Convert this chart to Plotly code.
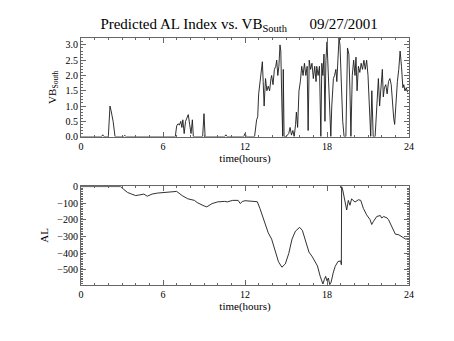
import plotly.graph_objects as go

# VB South (top panel)
vb_time = [0, 1.5, 1.59, 1.68, 2.0, 2.12, 2.2, 2.35, 2.49, 3.1, 3.2, 3.3,
           6.9, 7.0, 7.1, 7.2, 7.3, 7.38, 7.45, 7.55, 7.65, 7.78, 7.85, 7.95, 8.05, 8.15, 8.22,
           8.9, 9.0, 9.08, 10.5, 10.6, 10.7, 11.9, 12.0, 12.1,
           12.7, 12.85, 12.93, 13.0, 13.05, 13.12, 13.2, 13.27, 13.33, 13.4,
           13.5, 13.6, 13.7, 13.8, 13.9, 13.95, 14.05, 14.15, 14.25, 14.32,
           14.4, 14.48, 14.56, 14.62, 14.7, 14.76, 14.8, 14.86, 15.0, 15.2,
           15.3, 15.4, 15.5, 15.6, 15.7, 15.76, 15.85, 15.95, 16.05, 16.15,
           16.25, 16.35, 16.45, 16.55, 16.62, 16.7, 16.8, 16.9, 17.0, 17.1,
           17.2, 17.25, 17.35, 17.45, 17.55, 17.62, 17.7, 17.78, 17.85, 17.92,
           18.0, 18.05, 18.15, 18.28, 18.35, 18.47, 18.55, 18.65, 18.72, 18.8,
           18.88, 18.95, 19.05, 19.15, 19.25, 19.38, 19.5, 19.6, 19.68, 19.75,
           19.85, 19.95, 20.05, 20.12, 20.2, 20.3, 20.4, 20.5, 20.6, 20.7,
           20.8, 20.9, 21.0, 21.1, 21.2, 21.28, 21.38, 21.52, 21.62, 21.76,
           21.85, 21.95, 22.05, 22.12, 22.2, 22.3, 22.4, 22.5, 22.6, 22.7,
           22.8, 22.88, 22.95, 23.05, 23.15, 23.25, 23.35, 23.45, 23.55, 23.62,
           23.7, 23.8, 23.9]
vb_south = [0, 0, 0.06, 0, 0, 1.0, 0.85, 0.5, 0, 0, 0.04, 0,
            0, 0.35, 0.42, 0.38, 0.5, 0.3, 0.55, 0.1, 0.5, 0.7, 0.72, 0.4, 0.1, 0.55, 0,
            0, 0.75, 0, 0, 0.06, 0, 0, 0.1, 0,
            0, 0.55, 0.65, 1.4, 1.6, 1.7, 2.2, 2.45, 1.8, 1.0,
            1.9, 1.5, 1.65, 1.5, 1.9, 2.0, 1.7, 2.2, 2.3, 2.5,
            2.0, 2.3, 3.0, 2.8, 1.0, 0, 2.2, 0, 0, 0.1,
            0.3, 0.05, 0.2, 0, 0.4, 0.8, 0.3, 1.5, 1.8, 2.3,
            2.0, 2.4, 2.0, 2.3, 0.2, 2.5, 2.2, 2.4, 1.9, 2.3,
            1.8, 2.3, 2.0, 2.3, 0, 2.4, 2.0, 2.7, 0.5, 2.5,
            3.1, 2.6, 1.2, 0, 1.0, 1.9, 2.0, 2.2, 1.8, 2.6,
            3.23, 3.0, 1.5, 0.5, 0, 0, 2.9, 2.7, 1.5, 0,
            2.0, 2.5, 2.0, 2.6, 1.5, 2.3, 2.1, 2.4, 2.2, 2.5,
            2.2, 2.5, 2.0, 1.0, 0, 1.5, 0, 0, 1.0, 1.9,
            1.0, 1.6, 2.2, 1.3, 1.6, 1.7, 1.4, 1.8, 1.9, 1.7,
            1.0, 0.6, 0.4, 1.2, 1.8, 2.2, 2.8, 2.3, 1.6, 1.7,
            1.5, 1.6, 1.45]

# AL index (bottom panel)
al_time = [0, 2.9, 3.1, 3.4, 3.7, 4.0, 4.3, 4.6, 4.85, 5.2,
           5.6, 6.1, 6.8, 7.0, 7.4, 7.8, 8.3, 8.5, 9.0, 9.2,
           9.6, 10.0, 10.5, 10.7, 11.1, 11.3, 11.5, 11.65, 11.8, 12.0,
           12.5, 12.9, 13.1, 13.4, 13.7, 13.95, 14.2, 14.45, 14.7, 14.95,
           15.2, 15.44, 15.69, 16.0, 16.2, 16.44, 16.68, 16.93, 17.3, 17.5,
           17.7, 17.8, 17.9, 18.0, 18.1, 18.2, 18.3, 18.45, 18.6, 18.8,
           19.0, 19.05, 19.07, 19.15, 19.3, 19.44, 19.56, 19.68, 19.8, 20.05,
           20.3, 20.47, 20.66, 20.9, 21.15, 21.27, 21.4, 21.64, 21.9, 22.0,
           22.15, 22.4, 22.5, 22.75, 23.0, 23.25, 23.5, 23.74, 23.87]
al_index = [0, 0, -15, -35, -45, -54, -50, -45, -58, -45,
            -39, -35, -31, -29, -54, -73, -83, -96, -116, -122,
            -102, -92, -89, -92, -83, -84, -83, -102, -90, -85,
            -86, -91, -133, -210, -278, -316, -384, -452, -485, -465,
            -403, -316, -268, -245, -264, -336, -394, -423, -477, -539,
            -586, -560, -540, -567, -550, -590, -575, -520, -480, -451,
            -447, -470, 0, -20, -74, -141, -83, -112, -74, -93,
            -79, -83, -131, -170, -199, -228, -209, -180, -174, -189,
            -180, -189, -199, -247, -286, -290, -305, -315, -315]

x_ticks = [0, 6, 12, 18, 24]
vb_ticks = [0.0, 0.5, 1.0, 1.5, 2.0, 2.5, 3.0]
al_ticks = [0, -100, -200, -300, -400, -500]

W, H = 454, 341
TICKFONT = dict(family="Liberation Serif", size=10, color="black")
TITLEFONT = dict(family="Liberation Serif", size=11, color="black")
AXCOL = "#666666"
LINECOL = "#1a1a1a"

fig = go.Figure()
fig.add_trace(go.Scatter(x=vb_time, y=vb_south, mode="lines",
                         line=dict(color=LINECOL, width=0.9), xaxis="x", yaxis="y"))
fig.add_trace(go.Scatter(x=al_time, y=al_index, mode="lines",
                         line=dict(color=LINECOL, width=0.9), xaxis="x2", yaxis="y2"))

def xax(anchor):
    return dict(range=[0, 24], tickvals=x_ticks, ticks="inside", ticklen=5,
                tickcolor=AXCOL, showline=True, linecolor=AXCOL, linewidth=1,
                mirror="ticks", showgrid=False, zeroline=False, anchor=anchor,
                tickfont=TICKFONT, domain=[0, 1],
                minor=dict(dtick=1, ticks="inside", ticklen=2, tickcolor=AXCOL, showgrid=False),
                title=dict(text="time(hours)", font=TITLEFONT, standoff=2))

def yax(rng, tv, fmt, minor_dt, title, dom, anchor):
    return dict(range=rng, tickvals=tv, tickformat=fmt, ticks="inside", ticklen=5,
                tickcolor=AXCOL, showline=True, linecolor=AXCOL, linewidth=1,
                mirror="ticks", showgrid=False, zeroline=False, anchor=anchor,
                tickfont=TICKFONT, domain=dom,
                minor=dict(dtick=minor_dt, ticks="inside", ticklen=2, tickcolor=AXCOL, showgrid=False),
                title=dict(text=title, font=TITLEFONT, standoff=6))

fig.update_layout(
    width=W, height=H, showlegend=False,
    paper_bgcolor="white", plot_bgcolor="white",
    margin=dict(l=81, r=45, t=0, b=0),
    title=dict(text="Predicted AL Index vs. VB<sub>South</sub>\u00a0\u00a0\u00a0\u00a0\u00a0\u00a009/27/2001",
               x=0.482, xref="paper", xanchor="center", y=1 - 24 / H, yref="container",
               yanchor="middle", font=dict(family="Liberation Serif", size=15, color="black")),
    xaxis=xax("y"),
    xaxis2=xax("y2"),
    yaxis=yax([0, 3.23], vb_ticks, ".1f", 0.1, "VB<sub>South</sub>",
              [1 - 136 / H, 1 - 34 / H], "x"),
    yaxis2=yax([-590, 2], al_ticks, "d", 10, "AL",
               [1 - 289 / H, 1 - 187.3 / H], "x2"),
)

fig.write_html("out.html")
